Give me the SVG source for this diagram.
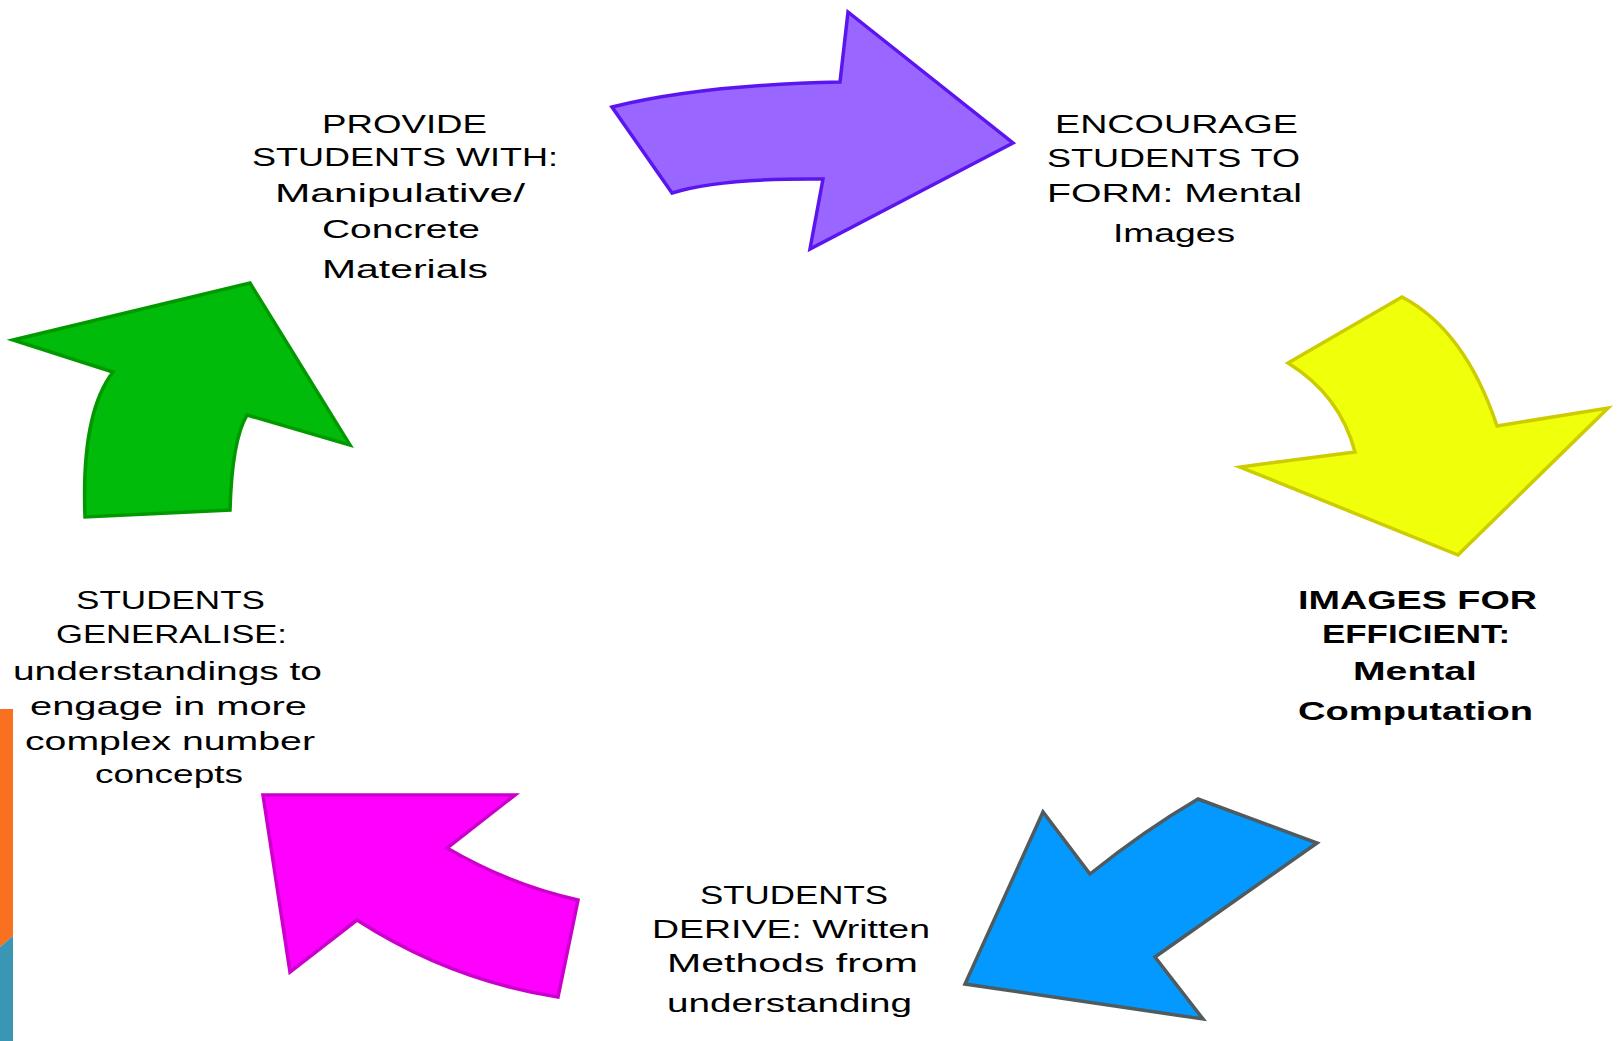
<svg xmlns="http://www.w3.org/2000/svg" width="1624" height="1041" viewBox="0 0 1624 1041">
<style>
.t{font-family:"Liberation Sans",Arial,sans-serif;font-size:25px;fill:#000;text-anchor:start}
.b{font-weight:bold}
.arr{stroke-width:3.5;stroke-linejoin:miter}
</style>
<rect width="1624" height="1041" fill="#fff"/>
<g id="sidebar">
<polygon points="0,709 13,709 13,936 0,947" fill="#F97020"/>
<polygon points="0,947 13,936 13,1041 0,1041" fill="#3A96B4"/>
</g>
<g id="connectors">
<path id="arrow-purple" class="arr" fill="#9966FF" stroke="#5B16F0" d="M612,107 Q700,85 840,82 L848,12 L1013,143 L810,249 L823,179 Q720,178 672,193 Z"/>
<path id="arrow-yellow" class="arr" fill="#F0FF0A" stroke="#CCCC00" d="M1402,297 Q1465,330 1497,426 L1608,408 L1458,555 L1240,467 L1355,452 Q1340,395 1288,363 Z"/>
<path id="arrow-blue" class="arr" fill="#0499FF" stroke="#4F5B5E" d="M1317,843 L1155,957 L1203,1019 L965,984 L1043,812 L1090,874 Q1145,830 1198,799 Z"/>
<path id="arrow-magenta" class="arr" fill="#FF00FF" stroke="#CC00CC" d="M263,795 L515,795 L447,848 Q510,885 578,900 L558,997 Q450,980 357,920 L290,972 Z"/>
<path id="arrow-green" class="arr" fill="#00BB0A" stroke="#009900" d="M13,340 L250,283 L350,445 L247,415 Q232,440 230,510 L85,517 C82,440 95,395 113,372 Z"/>
</g>
<g id="node-provide">
<text class="t" x="322" y="133" textLength="165" lengthAdjust="spacingAndGlyphs">PROVIDE</text>
<text class="t" x="252" y="166" textLength="306" lengthAdjust="spacingAndGlyphs">STUDENTS WITH:</text>
<text class="t" x="275" y="202" textLength="250" lengthAdjust="spacingAndGlyphs">Manipulative/</text>
<text class="t" x="322" y="238" textLength="158" lengthAdjust="spacingAndGlyphs">Concrete</text>
<text class="t" x="322" y="278" textLength="166" lengthAdjust="spacingAndGlyphs">Materials</text>
</g>
<g id="node-encourage">
<text class="t" x="1055" y="133" textLength="243" lengthAdjust="spacingAndGlyphs">ENCOURAGE</text>
<text class="t" x="1047" y="167" textLength="253" lengthAdjust="spacingAndGlyphs">STUDENTS TO</text>
<text class="t" x="1047" y="202" textLength="255" lengthAdjust="spacingAndGlyphs">FORM: Mental</text>
<text class="t" x="1113" y="242" textLength="122" lengthAdjust="spacingAndGlyphs">Images</text>
</g>
<g id="node-images">
<text class="t b" x="1298" y="609" textLength="239" lengthAdjust="spacingAndGlyphs">IMAGES FOR</text>
<text class="t b" x="1322" y="643" textLength="188" lengthAdjust="spacingAndGlyphs">EFFICIENT:</text>
<text class="t b" x="1353" y="680" textLength="124" lengthAdjust="spacingAndGlyphs">Mental</text>
<text class="t b" x="1298" y="720" textLength="235" lengthAdjust="spacingAndGlyphs">Computation</text>
</g>
<g id="node-derive">
<text class="t" x="700" y="904" textLength="188" lengthAdjust="spacingAndGlyphs">STUDENTS</text>
<text class="t" x="652" y="938" textLength="278" lengthAdjust="spacingAndGlyphs">DERIVE: Written</text>
<text class="t" x="667" y="972" textLength="251" lengthAdjust="spacingAndGlyphs">Methods from</text>
<text class="t" x="667" y="1012" textLength="245" lengthAdjust="spacingAndGlyphs">understanding</text>
</g>
<g id="node-generalise">
<text class="t" x="76" y="609" textLength="189" lengthAdjust="spacingAndGlyphs">STUDENTS</text>
<text class="t" x="56" y="643" textLength="231" lengthAdjust="spacingAndGlyphs">GENERALISE:</text>
<text class="t" x="13" y="680" textLength="309" lengthAdjust="spacingAndGlyphs">understandings to</text>
<text class="t" x="30" y="715" textLength="277" lengthAdjust="spacingAndGlyphs">engage in more</text>
<text class="t" x="25" y="750" textLength="290" lengthAdjust="spacingAndGlyphs">complex number</text>
<text class="t" x="95" y="783" textLength="148" lengthAdjust="spacingAndGlyphs">concepts</text>
</g>
</svg>
